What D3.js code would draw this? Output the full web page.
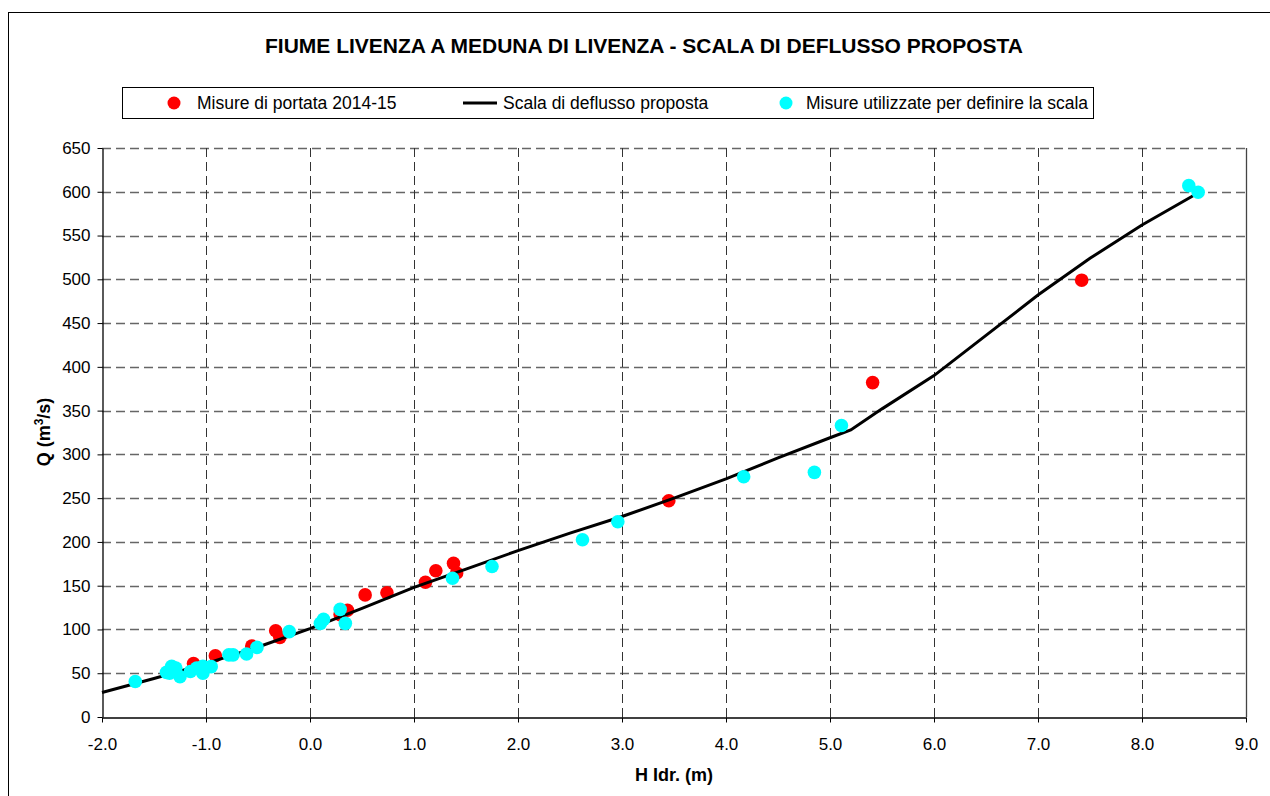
<!DOCTYPE html>
<html><head><meta charset="utf-8">
<script src="https://cdn.jsdelivr.net/npm/d3@7"></script>
<style>body{margin:0;background:#fff}svg{display:block}text{font-family:"Liberation Sans",Arial,sans-serif}</style>
</head><body>
<svg id="c" width="1270" height="796"></svg>
<script>
const titleText = "FIUME LIVENZA A MEDUNA DI LIVENZA - SCALA DI DEFLUSSO PROPOSTA";
const legendLabels = ["Misure di portata 2014-15", "Scala di deflusso proposta", "Misure utilizzate per definire la scala"];
const xTicks = [-2,-1,0,1,2,3,4,5,6,7,8,9];
const yTicks = [0,50,100,150,200,250,300,350,400,450,500,550,600,650];

const redH = [-1.12,-0.91,-0.56,-0.33,-0.29,0.29,0.36,0.53,0.74,1.11,1.21,1.38,1.41,3.45,5.41,7.42];
const redQ = [61,70,81,98.5,91,117,122,139.5,142,154,167,175.5,164.5,247,382,499];

const curveH = [-2.0,-1.5,-1.0,-0.5,0.0,0.5,1.0,1.5,2.0,2.5,3.0,3.5,4.0,4.5,5.0,5.2,5.5,6.0,6.5,7.0,7.5,8.0,8.5];
const curveQ = [28,44,61,80,101,124,148,169,190,210,229,250,272,296,319,328,352,390,436,482,524,562,596];

const cyanH = [-1.68,-1.38,-1.35,-1.33,-1.29,-1.25,-1.15,-1.09,-1.03,-1.03,-0.95,-0.78,-0.74,-0.61,-0.51,-0.20,0.10,0.13,0.29,0.34,1.37,1.75,2.62,2.96,4.17,4.85,5.11,8.45,8.54];
const cyanQ = [40.5,51,50,58,56,46,52,56,50,58,57.5,71,71,72,79.5,97.5,107,111.5,123,107,158.5,172,202.5,223,274.5,279.5,333,607,599.5];

const svg = d3.select("#c");
const L=102,R=1246,T=148,B=717;
const x = d3.scaleLinear().domain([-2,9]).range([L,R]);
const y = d3.scaleLinear().domain([0,650]).range([B,T]);

// outer frame
svg.append("rect").attr("x",8.5).attr("y",12.5).attr("width",1400).attr("height",1000)
  .attr("fill","#fff").attr("stroke","#000").attr("stroke-width",1);

// title
svg.append("text").attr("x",644).attr("y",53).attr("text-anchor","middle")
  .attr("font-size",21).attr("font-weight","bold").text(titleText);

// grid
const g = svg.append("g");
g.selectAll(".hg").data(yTicks.filter(d=>d>0)).join("line")
  .attr("x1",L).attr("x2",R).attr("y1",d=>Math.round(y(d))+0.5).attr("y2",d=>Math.round(y(d))+0.5)
  .attr("stroke","#666").attr("stroke-width",1.3).attr("stroke-dasharray","9,5");
g.selectAll(".vg").data(xTicks.filter(d=>d>-2&&d<9)).join("line")
  .attr("y1",T).attr("y2",B).attr("x1",d=>Math.round(x(d))+0.5).attr("x2",d=>Math.round(x(d))+0.5)
  .attr("stroke","#333").attr("stroke-width",1).attr("stroke-dasharray","9,5");
g.append("line").attr("x1",R+0.5).attr("x2",R+0.5).attr("y1",T).attr("y2",B).attr("stroke","#444").attr("stroke-width",1.3);

// axes
const fmt = d => d.toFixed(1);
const xAxis = svg.append("g").attr("transform",`translate(0,${B+0.5})`)
  .call(d3.axisBottom(x).tickValues(xTicks).tickFormat(fmt).tickSize(5).tickSizeOuter(0));
xAxis.selectAll("text").attr("font-size",17).attr("fill","#000").attr("y",20)
  .attr("font-family","Liberation Sans, Arial, sans-serif");
const yAxis = svg.append("g").attr("transform",`translate(${L+0.5},0)`)
  .call(d3.axisLeft(y).tickValues(yTicks).tickFormat(d3.format("d")).tickSize(5).tickSizeOuter(0));
yAxis.selectAll("text").attr("font-size",17).attr("fill","#000").attr("x",-12)
  .attr("font-family","Liberation Sans, Arial, sans-serif");
svg.selectAll(".domain").attr("stroke","#000").attr("stroke-width",1.3);
svg.selectAll(".tick line").attr("stroke","#000");

// axis labels
svg.append("text").attr("x",674).attr("y",781).attr("text-anchor","middle")
  .attr("font-size",18).attr("font-weight","bold").text("H Idr. (m)");
const yl = svg.append("text").attr("transform","translate(50,432) rotate(-90)").attr("text-anchor","middle")
  .attr("font-size",18).attr("font-weight","bold");
yl.append("tspan").text("Q (m");
yl.append("tspan").attr("font-size",12).attr("dy",-7).text("3");
yl.append("tspan").attr("dy",7).text("/s)");

// series
const red = redH.map((h,i)=>({h,q:redQ[i]}));
const cyan = cyanH.map((h,i)=>({h,q:cyanQ[i]}));
const curve = curveH.map((h,i)=>({h,q:curveQ[i]}));

svg.append("g").selectAll("circle").data(red).join("circle")
  .attr("cx",d=>x(d.h)).attr("cy",d=>y(d.q)).attr("r",6.8).attr("fill","#ff0000");
svg.append("path").datum(curve)
  .attr("d",d3.line().x(d=>x(d.h)).y(d=>y(d.q)))
  .attr("fill","none").attr("stroke","#000").attr("stroke-width",3);
svg.append("g").selectAll("circle").data(cyan).join("circle")
  .attr("cx",d=>x(d.h)).attr("cy",d=>y(d.q)).attr("r",6.8).attr("fill","#00ffff");

// legend
const lg = svg.append("g");
lg.append("rect").attr("x",122.5).attr("y",87.5).attr("width",971).attr("height",31)
  .attr("fill","#fff").attr("stroke","#000");
lg.append("circle").attr("cx",174).attr("cy",103).attr("r",6.5).attr("fill","#ff0000");
lg.append("text").attr("x",197).attr("y",109).attr("font-size",17.5).text(legendLabels[0]);
lg.append("line").attr("x1",463).attr("x2",497).attr("y1",103).attr("y2",103).attr("stroke","#000").attr("stroke-width",3);
lg.append("text").attr("x",503).attr("y",109).attr("font-size",17.5).text(legendLabels[1]);
lg.append("circle").attr("cx",786).attr("cy",103).attr("r",6.5).attr("fill","#00ffff");
lg.append("text").attr("x",806).attr("y",109).attr("font-size",17.5).text(legendLabels[2]);
</script>
</body></html>
